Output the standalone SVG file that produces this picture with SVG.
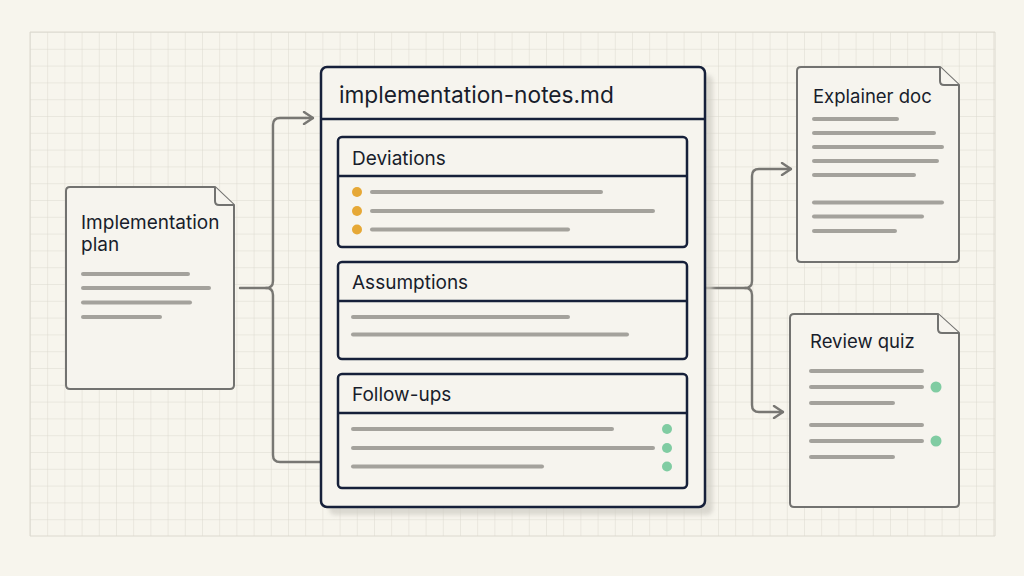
<svg xmlns="http://www.w3.org/2000/svg" width="1024" height="576" viewBox="0 0 1024 576">
<defs>
<pattern id="grid" x="30" y="32" width="17.2" height="16.8" patternUnits="userSpaceOnUse">
<path d="M0,0 V16.8 M0,0 H17.2" fill="none" stroke="#dcd9cf" stroke-width="1"/>
</pattern>
<marker id="arr" viewBox="0 0 12 14" refX="11" refY="7" markerWidth="12" markerHeight="14" markerUnits="userSpaceOnUse" orient="auto">
<path d="M2,1 L11,7 L2,13" fill="none" stroke="#787773" stroke-width="2.4" stroke-linecap="round" stroke-linejoin="round"/>
</marker>
<filter id="blur" x="-10%" y="-10%" width="120%" height="120%"><feGaussianBlur stdDeviation="2"/></filter>
</defs>
<style>
.t{font-family:Inter,"Liberation Sans",sans-serif;fill:#181d2b}
.doc{fill:#f6f4ee;stroke:#727270;stroke-width:2;stroke-linejoin:round}
.ln{stroke:#a4a29c;stroke-width:4;stroke-linecap:round}
.nv{fill:#f6f4ee;stroke:#16203a;stroke-width:2.5}
.dv{stroke:#16203a;stroke-width:2.5}
.con{fill:none;stroke:#787773;stroke-width:2.4;stroke-linecap:round}
.or{fill:#e6a836}
.gr{fill:#80cca2}
</style>
<rect width="1024" height="576" fill="#f7f5ed"/>
<rect x="30" y="32" width="965" height="504" fill="url(#grid)"/>
<path d="M30,32 H995 V536 H30 Z" fill="none" stroke="#dcd9cf"/>

<g id="connectors">
<path class="con" d="M240,288 H266 Q273,288 273,281 V125 Q273,118 280,118 H313" marker-end="url(#arr)"/>
<path class="con" d="M266,288 Q273,288 273,295 V455 Q273,462 280,462 H321"/>
<path class="con" d="M705,288 H745 Q752,288 752,281 V176 Q752,169 759,169 H791" marker-end="url(#arr)"/>
<path class="con" d="M745,288 Q752,288 752,295 V405 Q752,412 759,412 H783" marker-end="url(#arr)"/>
</g>

<g id="implementation-plan">
<path class="doc" d="M70,187 H215 L234,205 V385 Q234,389 230,389 H70 Q66,389 66,385 V191 Q66,187 70,187 Z"/>
<path class="doc" d="M215,187 V201 Q215,205 219,205 H234" fill="none"/>
<text class="t" x="81" y="229" font-size="19">Implementation</text>
<text class="t" x="81" y="251" font-size="19">plan</text>
<line class="ln" x1="83" y1="274" x2="188" y2="274" stroke-width="3"/>
<line class="ln" x1="83" y1="288" x2="209" y2="288" stroke-width="3"/>
<line class="ln" x1="83" y1="302.5" x2="190" y2="302.5" stroke-width="3"/>
<line class="ln" x1="83" y1="317" x2="160" y2="317" stroke-width="3"/>
</g>

<g id="implementation-notes">
<rect x="329" y="75" width="384" height="440" rx="6" fill="#cfccc4" opacity="0.7" filter="url(#blur)"/>
<rect class="nv" x="321" y="67" width="384" height="440" rx="6"/>
<line class="dv" x1="321" y1="119" x2="705" y2="119"/>
<text class="t" x="339" y="103" font-size="22.7">implementation-notes.md</text>

<g id="deviations">
<rect class="nv" x="338" y="137" width="349" height="110" rx="4"/>
<line class="dv" x1="338" y1="176" x2="687" y2="176"/>
<text class="t" x="352" y="165" font-size="19">Deviations</text>
<circle class="or" cx="357" cy="192" r="5"/>
<circle class="or" cx="357" cy="211" r="5"/>
<circle class="or" cx="357" cy="229.5" r="5"/>
<line class="ln" x1="372" y1="192" x2="601" y2="192"/>
<line class="ln" x1="372" y1="211" x2="653" y2="211"/>
<line class="ln" x1="372" y1="229.5" x2="568" y2="229.5"/>
</g>

<g id="assumptions">
<rect class="nv" x="338" y="262" width="349" height="97" rx="4"/>
<line class="dv" x1="338" y1="301" x2="687" y2="301"/>
<text class="t" x="352" y="289" font-size="19">Assumptions</text>
<line class="ln" x1="353" y1="317" x2="568" y2="317"/>
<line class="ln" x1="353" y1="334.5" x2="627" y2="334.5"/>
</g>

<g id="follow-ups">
<rect class="nv" x="338" y="374" width="349" height="114" rx="4"/>
<line class="dv" x1="338" y1="413" x2="687" y2="413"/>
<text class="t" x="352" y="401" font-size="19">Follow-ups</text>
<line class="ln" x1="353" y1="429" x2="612" y2="429"/>
<line class="ln" x1="353" y1="448" x2="653" y2="448"/>
<line class="ln" x1="353" y1="466.5" x2="542" y2="466.5"/>
<circle class="gr" cx="667" cy="429" r="5"/>
<circle class="gr" cx="667" cy="448" r="5"/>
<circle class="gr" cx="667" cy="466.5" r="5"/>
</g>
</g>

<g id="explainer-doc">
<path class="doc" d="M801,67 H940 L959,85 V258 Q959,262 955,262 H801 Q797,262 797,258 V71 Q797,67 801,67 Z"/>
<path class="doc" d="M940,67 V81 Q940,85 944,85 H959" fill="none"/>
<text class="t" x="813" y="103" font-size="18.5">Explainer doc</text>
<line class="ln" x1="814" y1="119" x2="897" y2="119" stroke-width="3"/>
<line class="ln" x1="814" y1="133" x2="934" y2="133" stroke-width="3"/>
<line class="ln" x1="814" y1="147" x2="942" y2="147" stroke-width="3"/>
<line class="ln" x1="814" y1="161" x2="937" y2="161" stroke-width="3"/>
<line class="ln" x1="814" y1="175" x2="914" y2="175" stroke-width="3"/>
<line class="ln" x1="814" y1="202.5" x2="942" y2="202.5" stroke-width="3"/>
<line class="ln" x1="814" y1="216.5" x2="922" y2="216.5" stroke-width="3"/>
<line class="ln" x1="814" y1="231" x2="895" y2="231" stroke-width="3"/>
</g>

<g id="review-quiz">
<path class="doc" d="M794,314 H938 L959,333 V503 Q959,507 955,507 H794 Q790,507 790,503 V318 Q790,314 794,314 Z"/>
<path class="doc" d="M938,314 V329 Q938,333 942,333 H959" fill="none"/>
<text class="t" x="810" y="348" font-size="18.5">Review quiz</text>
<line class="ln" x1="811" y1="371" x2="922" y2="371" stroke-width="3"/>
<line class="ln" x1="811" y1="387" x2="922" y2="387" stroke-width="3"/>
<line class="ln" x1="811" y1="403" x2="893" y2="403" stroke-width="3"/>
<line class="ln" x1="811" y1="425" x2="922" y2="425" stroke-width="3"/>
<line class="ln" x1="811" y1="441" x2="922" y2="441" stroke-width="3"/>
<line class="ln" x1="811" y1="457" x2="893" y2="457" stroke-width="3"/>
<circle class="gr" cx="936" cy="387" r="5.5"/>
<circle class="gr" cx="936" cy="441" r="5.5"/>
</g>
</svg>
